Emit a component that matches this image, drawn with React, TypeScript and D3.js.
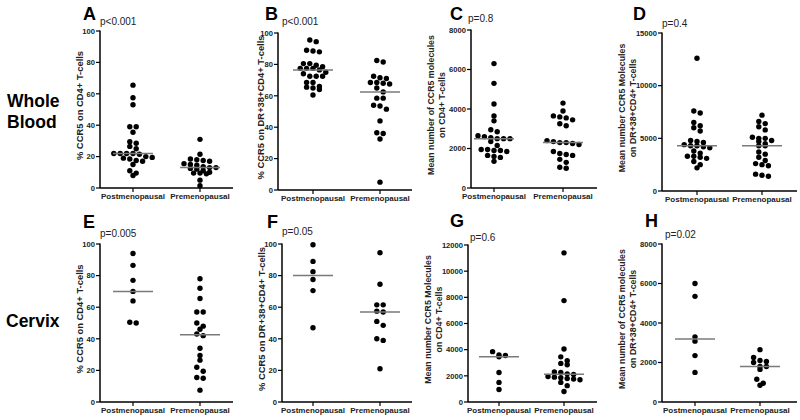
import React from "react";
import * as d3 from "d3";

const categories = ["Postmenopausal", "Premenopausal"];

// Whole blood
const aPost = [65.5, 57.5, 53, 39, 39, 35.5, 29.5, 28.5, 26.5, 25, 22, 22, 22, 22, 21.5, 20, 19.5, 19, 18.5, 17.5, 17, 15, 11, 9.5, 8];
const aPre = [31, 21.5, 18.5, 18, 17.5, 17, 15.5, 15, 14.5, 13.5, 13, 13, 12.5, 12, 11, 10, 9.5, 9.5, 9, 5, 1.5];
const bPost = [95.5, 94.5, 89, 88.5, 88, 80.5, 80.5, 79.5, 78.5, 77.5, 77.5, 77.5, 76.5, 75, 74, 72.5, 72.5, 72.5, 68.5, 68.5, 66, 65.5, 65, 64, 60.5];
const bPre = [82.5, 81.5, 72.5, 71.5, 71, 68.5, 68.5, 68, 67.5, 65, 62.5, 58.5, 58.5, 54, 53.5, 51.5, 44, 36.5, 36, 32.5, 5];
const cPost = [6300, 5300, 4250, 3650, 3400, 2950, 2850, 2650, 2600, 2550, 2500, 2500, 2500, 2350, 2150, 1950, 1950, 1900, 1900, 1850, 1650, 1600, 1550, 1350];
const cPre = [4300, 3900, 3650, 3600, 3550, 3450, 3250, 3150, 2400, 2350, 2300, 2300, 2250, 2200, 1850, 1750, 1700, 1650, 1450, 1300, 1050, 1000];
const dPost = [12600, 7600, 7400, 6500, 6200, 6000, 5700, 4800, 4700, 4600, 4400, 4300, 4300, 4200, 4100, 3800, 3600, 3300, 3300, 3200, 3100, 2800, 2500, 2200];
const dPre = [7200, 6600, 6400, 6100, 5800, 5100, 5000, 5000, 4800, 4700, 4500, 4300, 4300, 3700, 3500, 3200, 2900, 2600, 2500, 2400, 1600, 1500, 1400];

// Cervix
const ePost = [94, 86.5, 77, 70, 64, 50.5, 50];
const ePre = [78, 72, 65.5, 57, 57, 50, 48, 46, 43, 42, 34, 29.5, 26.5, 22, 19.5, 15.5, 15, 7.5];
const fPost = [99.5, 89, 82.5, 77.5, 70.5, 47];
const fPre = [94.5, 74.5, 61.5, 61.5, 57.5, 57, 51, 48.5, 40, 39, 21];
const gPost = [3850, 3600, 3550, 3450, 2250, 1500, 950];
const gPre = [11400, 7750, 4050, 3450, 3150, 2950, 2850, 2300, 2250, 2150, 2100, 1950, 1900, 1850, 1800, 1750, 1700, 1500, 1250, 800];
const hPost = [6000, 5350, 3300, 3080, 2350, 1500];
const hPre = [2650, 2250, 2100, 2050, 2000, 1800, 1800, 1650, 1150, 950, 850];

const pctTicks = [0, 20, 40, 60, 80, 100];
const ticks8000 = [0, 2000, 4000, 6000, 8000];
const ticks15000 = [0, 5000, 10000, 15000];
const ticks12000 = [0, 2000, 4000, 6000, 8000, 10000, 12000];

const letters = ["A", "B", "C", "D", "E", "F", "G", "H"];
const pValues = ["p<0.001", "p<0.001", "p=0.8", "p=0.4", "p=0.005", "p=0.05", "p=0.6", "p=0.02"];
const yTitles = [
  ["% CCR5 on CD4+ T-cells"],
  ["% CCR5 on DR+38+CD4+ T-cells"],
  ["Mean number of CCR5 molecules", "on CD4+ T-cells"],
  ["Mean number CCR5 Molecules", "on DR+38+CD4+ T-cells"],
  ["% CCR5 on CD4+ T-cells"],
  ["% CCR5 on DR+38+CD4+ T-cells"],
  ["Mean number CCR5 Molecules", "on CD4+ T-cells"],
  ["Mean number of CCR5 molecules", "on DR+38+CD4+ T-cells"],
];

const FONT = "'Liberation Sans', Arial, Helvetica, sans-serif";

type Layout = {
  x0: number; xEnd: number; top: number; bottom: number; post: number; pre: number;
  lx: number; ly: number; px: number; py: number; tx: number;
};

function swarm(values: number[], cx: number, y: d3.ScaleLinear<number, number>, d = 6.4) {
  const pts = values.map((v) => ({ v, py: y(v), px: cx })).sort((a, b) => a.py - b.py);
  const rows: typeof pts[] = [];
  let cur: typeof pts = [];
  let start = -Infinity;
  for (const p of pts) {
    if (p.py - start < 4.2 && cur.length) cur.push(p);
    else {
      if (cur.length) rows.push(cur);
      cur = [p];
      start = p.py;
    }
  }
  if (cur.length) rows.push(cur);
  rows.forEach((r) => r.forEach((p, i) => (p.px = cx + (i - (r.length - 1) / 2) * d)));
  return pts;
}

function Panel({ L, ticks, series, letter, pv, title }: { L: Layout; ticks: number[]; series: number[][]; letter: string; pv: string; title: string[] }) {
  const y = d3.scaleLinear().domain([0, ticks[ticks.length - 1]]).range([L.bottom, L.top]);
  const x = d3.scalePoint<string>().domain(categories).range([L.post, L.pre]);
  const midY = (L.top + L.bottom) / 2 - 4;
  const tSize = title.length === 1 ? 9.4 : 8.8;
  return (
    <g fontFamily={FONT}>
      <text x={L.lx} y={L.ly} fontSize={18} fontWeight="bold">{letter}</text>
      <text x={L.px} y={L.py} fontSize={10} fill="#222">{pv}</text>
      {title.map((t, i) => (
        <text key={i} transform={`translate(${L.tx + i * 11 - (title.length - 1) * 5.5},${midY}) rotate(-90)`} textAnchor="middle" fontSize={tSize} fontWeight="bold" fill="#222">{t}</text>
      ))}
      <line x1={L.x0} x2={L.x0} y1={L.top - 0.5} y2={L.bottom} stroke="#000" strokeWidth={1.5} />
      <line x1={L.x0} x2={L.xEnd} y1={L.bottom} y2={L.bottom} stroke="#000" strokeWidth={1.5} />
      {ticks.map((t) => (
        <g key={t}>
          <line x1={L.x0 - 4} x2={L.x0} y1={y(t)} y2={y(t)} stroke="#000" strokeWidth={1.2} />
          <text x={L.x0 - 5} y={y(t) + 2.8} textAnchor="end" fontSize={7.6} fontWeight="bold" fill="#222">{t}</text>
        </g>
      ))}
      {categories.map((c) => (
        <g key={c}>
          <line x1={x(c)} x2={x(c)} y1={L.bottom} y2={L.bottom + 4} stroke="#000" strokeWidth={1.2} />
          <text x={x(c)} y={L.bottom + 11} textAnchor="middle" fontSize={8} fontWeight="bold" fill="#222">{c}</text>
        </g>
      ))}
      {series.map((vals, si) => {
        const cx = x(categories[si]) as number;
        const med = d3.median(vals) as number;
        return (
          <g key={si}>
            {swarm(vals, cx, y).map((p, i) => (
              <circle key={i} cx={p.px} cy={p.py} r={2.7} fill="#000" />
            ))}
            <line x1={cx - 20} x2={cx + 20} y1={y(med)} y2={y(med)} stroke="#7a7a7a" strokeWidth={1.5} />
          </g>
        );
      })}
    </g>
  );
}

export default function App() {
  const layouts: Layout[] = [
    { x0: 100, xEnd: 233, top: 31, bottom: 188, post: 133, pre: 200, lx: 83, ly: 20, px: 100, py: 25, tx: 83 },
    { x0: 278, xEnd: 412, top: 33, bottom: 190, post: 313, pre: 380, lx: 265, ly: 20, px: 282, py: 25, tx: 264 },
    { x0: 471, xEnd: 597, top: 30, bottom: 188, post: 494, pre: 563, lx: 450, ly: 20, px: 468, py: 22, tx: 439 },
    { x0: 662, xEnd: 797, top: 33, bottom: 191, post: 697, pre: 762, lx: 633, ly: 20, px: 662, py: 27, tx: 630 },
    { x0: 100, xEnd: 233, top: 244, bottom: 402, post: 133, pre: 200, lx: 83, ly: 228, px: 100, py: 237, tx: 83 },
    { x0: 282, xEnd: 412, top: 244, bottom: 402, post: 313, pre: 380, lx: 267, ly: 228, px: 282, py: 235, tx: 265 },
    { x0: 468, xEnd: 597, top: 245, bottom: 402, post: 499, pre: 564, lx: 450, ly: 227, px: 470, py: 241, tx: 436 },
    { x0: 662, xEnd: 797, top: 244, bottom: 402, post: 695, pre: 760, lx: 645, ly: 227, px: 665, py: 238, tx: 630 },
  ];
  const tickSets = [pctTicks, pctTicks, ticks8000, ticks15000, pctTicks, pctTicks, ticks12000, ticks8000];
  const data = [
    [aPost, aPre], [bPost, bPre], [cPost, cPre], [dPost, dPre],
    [ePost, ePre], [fPost, fPre], [gPost, gPre], [hPost, hPre],
  ];
  return (
    <svg width={800} height={420} style={{ position: "fixed", left: 0, top: 0, background: "#fff" }}>
      <rect width={800} height={420} fill="#fff" />
      <g fontFamily={FONT} fontWeight="bold" fontSize={17.5}>
        <text x={7} y={107}>Whole</text>
        <text x={7} y={128}>Blood</text>
        <text x={6} y={327}>Cervix</text>
      </g>
      {layouts.map((L, i) => (
        <Panel key={i} L={L} ticks={tickSets[i]} series={data[i]} letter={letters[i]} pv={pValues[i]} title={yTitles[i]} />
      ))}
    </svg>
  );
}
